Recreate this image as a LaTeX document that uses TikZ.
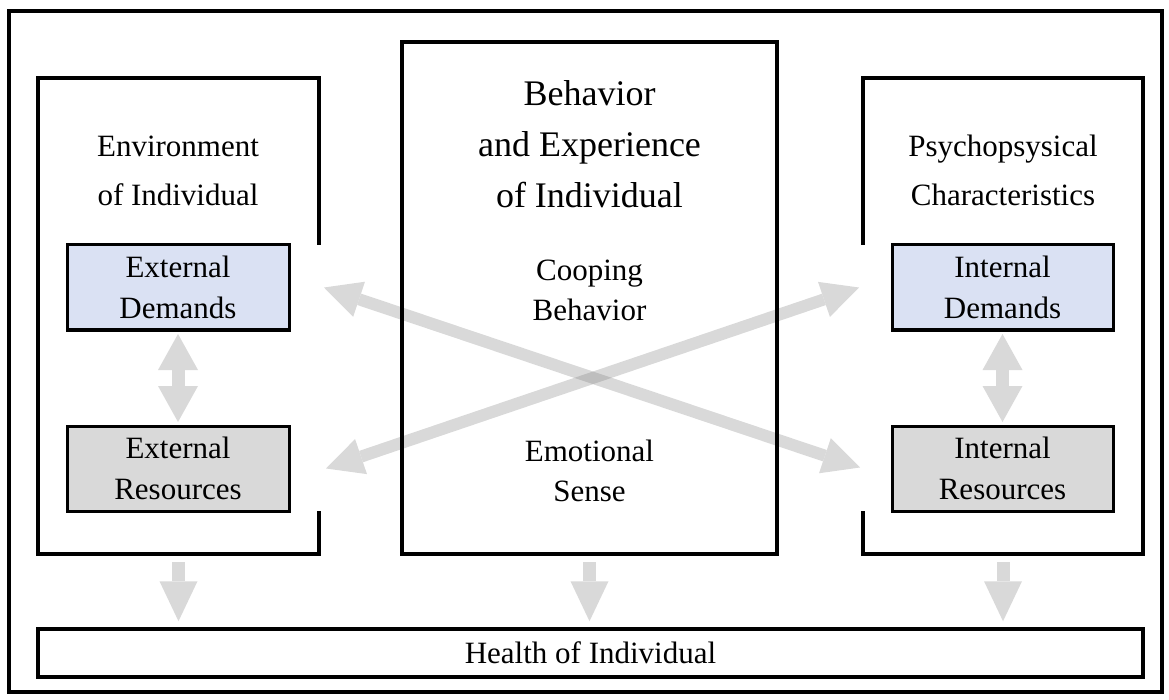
\documentclass[tikz,border=0pt]{standalone}
\usepackage{fontspec}
\setmainfont{Liberation Serif}
\usetikzlibrary{arrows.meta,calc,backgrounds}
\definecolor{demandfill}{RGB}{218,225,243}
\definecolor{resourcefill}{RGB}{217,217,217}
\definecolor{arrowlight}{RGB}{217,217,217}
\definecolor{arrowmid}{RGB}{128,128,128}

\begin{document}
\begin{tikzpicture}[x=1pt,y=-1pt,
  frame/.style={draw=black,line width=3.5pt,line join=miter},
  container/.style={inner sep=0pt,outer sep=0pt},
  inbox/.style={draw=black,line width=3pt,minimum width=222pt,minimum height=85pt,
    inner sep=0pt,outer sep=0pt,align=center,font=\fontsize{31}{41}\selectfont},
  heading/.style={align=center,inner sep=0pt,font=\fontsize{31}{49}\selectfont},
  bigheading/.style={align=center,inner sep=0pt,font=\fontsize{36}{51}\selectfont},
  subheading/.style={align=center,inner sep=0pt,font=\fontsize{31}{40}\selectfont},
  downarrow/.style={draw=arrowlight,line width=13pt,shorten <=8pt,shorten >=6pt,
    -{Triangle[length=40pt,width=38pt,line width=0pt]}},
  pairarrow/.style={draw=arrowlight,line width=13pt,shorten <=4pt,shorten >=4pt,
    {Triangle[length=36pt,width=40pt,line width=0pt]}-{Triangle[length=36pt,width=40pt,line width=0pt]}},
  crossarrow/.style={draw=arrowmid,line width=12pt,
    {Triangle[length=37pt,width=37pt,line width=0pt]}-{Triangle[length=37pt,width=37pt,line width=0pt]}},
]
\useasboundingbox (0,0) rectangle (1169,700);

% outer frame
\draw[frame] (9,11) rectangle (1162,692);

% three columns
\node[container,minimum width=281pt,minimum height=476pt] (envbox) at (178.5,316) {};
\node[container,minimum width=375pt,minimum height=512pt] (behbox) at (589.5,298) {};
\node[container,minimum width=280pt,minimum height=476pt] (psybox) at (1003,316) {};

% demands and resources
\node[inbox,fill=demandfill]   (ed) at (178,287.5)  {External\\Demands};
\node[inbox,fill=resourcefill] (er) at (178,468.5)  {External\\Resources};
\node[inbox,fill=demandfill,minimum width=221pt]   (id) at (1002.5,287.5) {Internal\\Demands};
\node[inbox,fill=resourcefill,minimum width=221pt] (ir) at (1002.5,468.5) {Internal\\Resources};

% column headings
\node[heading] (envtitle) at (178,170.5) {Environment\\of Individual};
\node[heading] (psytitle) at (1003,170) {Psychopsysical\\Characteristics};
\node[bigheading] (behtitle) at (589.5,144) {Behavior\\and Experience\\of Individual};
\node[subheading] (coping) at (589.5,290.5) {Cooping\\Behavior};
\node[subheading] (emotion) at (589.5,470.5) {Emotional\\Sense};

% health bar
\node[draw=black,line width=3.5pt,minimum width=1105pt,minimum height=48pt,inner sep=0pt,
  font=\fontsize{31}{38}\selectfont] (health) at (590.5,653) {Health of Individual};

% column outlines, open where the inner boxes sit
\draw[frame] (envbox.east |- ed.north) -- (envbox.north east) -- (envbox.north west)
  -- (envbox.south west) -- (envbox.south east) -- (envbox.east |- er.south);
\draw[frame] (psybox.west |- id.north) -- (psybox.north west) -- (psybox.north east)
  -- (psybox.south east) -- (psybox.south west) -- (psybox.west |- ir.south);
\draw[frame] (behbox.north west) rectangle (behbox.south east);

% tips of the crossing arrows
\coordinate (xa1) at ($(ed.east)+(35,0)$);
\coordinate (xa2) at ($(ir.west)+(-32,-1)$);
\coordinate (xb1) at ($(er.east)+(37,0)$);
\coordinate (xb2) at ($(id.west)+(-33,0)$);

\begin{scope}[on background layer]
  \begin{scope}[transparency group,opacity=0.3]
    \draw[crossarrow] (xa1) -- (xa2);
  \end{scope}
  \begin{scope}[transparency group,opacity=0.3]
    \draw[crossarrow] (xb1) -- (xb2);
  \end{scope}
  \draw[pairarrow] (ed.south) -- (er.north);
  \draw[pairarrow] (id.south) -- (ir.north);
  \draw[downarrow] (envbox.south) -- (envbox.south |- health.north);
  \draw[downarrow] (behbox.south) -- (behbox.south |- health.north);
  \draw[downarrow] (psybox.south) -- (psybox.south |- health.north);
\end{scope}
\end{tikzpicture}
\end{document}
